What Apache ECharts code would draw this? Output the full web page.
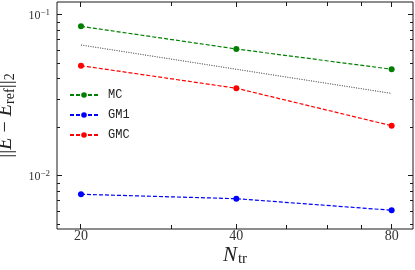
<!DOCTYPE html>
<html><head><meta charset="utf-8">
<script src="https://cdn.jsdelivr.net/npm/echarts@6/dist/echarts.min.js"></script>
<style>html,body{margin:0;padding:0;background:#fff}#c{width:415px;height:270px}</style>
</head><body><div id="c"></div>
<script>
// ---- data ----
const N = [20, 40, 80];
const MC = [0.0847, 0.0613, 0.0459];
const GM1 = [0.0077, 0.00723, 0.00613];
const GMC = [0.0483, 0.0350, 0.0205];
const REF = [0.0649, 0.0459, 0.0325];
const seriesNames = ['MC', 'GM1', 'GMC'];
const xTicks = [20, 40, 80];
const xMinorTicks = [30, 50, 60, 70];
const yTicks = [0.01, 0.1];
const yMinorTicks = [0.005, 0.006, 0.007, 0.008, 0.009, 0.02, 0.03, 0.04, 0.05, 0.06, 0.07, 0.08, 0.09];
const X_MIN = 17.97, X_MAX = 88.0, Y_MIN = 0.00469, Y_MAX = 0.1199;

const L = Math.log10;
const INK = '#1a1a1a';
const SERIF = '"Liberation Serif", "DejaVu Serif", serif';
const rect = { left: 57, top: 2, width: 356, height: 227 };
const grids = [0, 1].map(i => Object.assign({
  show: i === 0, borderColor: INK, borderWidth: 1, backgroundColor: 'transparent',
  containLabel: false, outerBoundsMode: 'none'
}, rect));

// overlay value axes (log10 space) used only for tick labels and axis names
const xAxes = [
  { type: 'log', logBase: 10, gridIndex: 0, min: X_MIN, max: X_MAX, show: false },
  {
    type: 'value', gridIndex: 1, position: 'bottom', min: L(X_MIN), max: L(X_MAX),
    axisLine: { show: false, onZero: false }, splitLine: { show: false }, axisTick: { show: false },
    axisLabel: {
      show: true, customValues: xTicks.map(L), margin: 0, color: '#333', fontSize: 14, fontFamily: SERIF,
      formatter: v => String(Math.round(Math.pow(10, v)))
    },
    name: '{i|N}{s|tr}', nameLocation: 'middle', nameGap: 16, nameMoveOverlap: false,
    nameTextStyle: { rich: {
      i: { fontSize: 21, fontStyle: 'italic', fontFamily: SERIF, color: '#222', lineHeight: 22, verticalAlign: 'top' },
      s: { fontSize: 15, fontFamily: SERIF, color: '#222', lineHeight: 14, padding: [11, 0, 0, 1], verticalAlign: 'bottom' }
    } }
  }
];

const yAxes = [
  { type: 'log', logBase: 10, gridIndex: 0, min: Y_MIN, max: Y_MAX, show: false },
  {
    type: 'value', gridIndex: 1, position: 'left', min: L(Y_MIN), max: L(Y_MAX),
    axisLine: { show: false, onZero: false }, splitLine: { show: false }, axisTick: { show: false },
    axisLabel: {
      show: true, customValues: yTicks.map(L), margin: 7, color: '#333',
      formatter: v => '{b|10}{s|−' + Math.round(-v) + '}',
      rich: {
        b: { fontSize: 12, fontFamily: SERIF, color: '#333', lineHeight: 14, verticalAlign: 'bottom' },
        s: { fontSize: 9, fontFamily: SERIF, color: '#333', lineHeight: 10, padding: [0, 0, 8, 0], verticalAlign: 'top' }
      }
    },
    name: '{b|||}{i|E}{b| − }{i|E}{s|ref}{b|||}{s|2}', nameLocation: 'middle', nameRotate: 90, nameGap: 38,
    nameTextStyle: { rich: {
      b: { fontSize: 20, fontFamily: SERIF, color: '#222', lineHeight: 22, verticalAlign: 'top' },
      i: { fontSize: 20, fontStyle: 'italic', fontFamily: SERIF, color: '#222', lineHeight: 22, verticalAlign: 'top' },
      s: { fontSize: 14, fontFamily: SERIF, color: '#222', lineHeight: 14, padding: [12, 0, 0, 0], verticalAlign: 'bottom' }
    } }
  }
];

// inside tick marks on all four sides, placed through the log axes (one rect per tick)
function tickSeries(id, side, vals, len) {
  const isX = side === 'bottom' || side === 'top';
  return {
    name: id, type: 'custom', xAxisIndex: 0, yAxisIndex: 0, silent: true, clip: false, z: 5,
    data: vals.map(v => isX ? [v, Y_MIN] : [X_MIN, v]),
    renderItem: function (params, api) {
      if (isX) {
        const v = api.value(0);
        const p = api.coord([v, side === 'bottom' ? Y_MIN : Y_MAX]);
        const x = Math.round(p[0] - 0.5);
        return { type: 'rect', shape: { x: x, y: side === 'bottom' ? p[1] - len : p[1], width: 1, height: len }, style: { fill: INK } };
      } else {
        const v = api.value(1);
        const p = api.coord([side === 'left' ? X_MIN : X_MAX, v]);
        const y = Math.round(p[1] - 0.5);
        return { type: 'rect', shape: { x: side === 'left' ? p[0] : p[0] - len, y: y, width: len, height: 1 }, style: { fill: INK } };
      }
    }
  };
}

const colors = { MC: '#008000', GM1: '#0000ff', GMC: '#ff0000' };
const values = { MC: MC, GM1: GM1, GMC: GMC };

const series = [{
  name: 'ref', type: 'line', xAxisIndex: 0, yAxisIndex: 0,
  data: N.map((n, i) => [n, REF[i]]),
  symbol: 'none', lineStyle: { color: '#000', width: 0.8, type: [1, 1.4] }, z: 2
}].concat(seriesNames.map(name => ({
  name: name, type: 'line', xAxisIndex: 0, yAxisIndex: 0,
  data: N.map((n, i) => [n, values[name][i]]),
  symbol: 'circle', symbolSize: 6, showSymbol: true,
  lineStyle: { color: colors[name], width: 1.2, type: [4, 2] },
  itemStyle: { color: colors[name] },
  z: 3
}))).concat([
  tickSeries('tXb', 'bottom', xTicks, 5),
  tickSeries('tXt', 'top', xTicks, 5),
  tickSeries('mXb', 'bottom', xMinorTicks, 4),
  tickSeries('mXt', 'top', xMinorTicks, 4),
  tickSeries('tYl', 'left', yTicks, 5),
  tickSeries('tYr', 'right', yTicks, 5),
  tickSeries('mYl', 'left', yMinorTicks, 3),
  tickSeries('mYr', 'right', yMinorTicks, 3)
]);

const chart = echarts.init(document.getElementById('c'), null, { renderer: 'canvas' });
chart.setOption({
  animation: false,
  backgroundColor: '#fff',
  grid: grids,
  xAxis: xAxes,
  yAxis: yAxes,
  legend: {
    data: seriesNames, orient: 'vertical', left: 69, top: 88, padding: 0,
    itemWidth: 28, itemHeight: 7, itemGap: 6,
    textStyle: { fontFamily: '"Liberation Mono", "DejaVu Sans Mono", monospace', fontSize: 12, color: '#222', lineHeight: 14, padding: [0, 0, 0, 5] }
  },
  series: series
});
</script>
</body></html>
